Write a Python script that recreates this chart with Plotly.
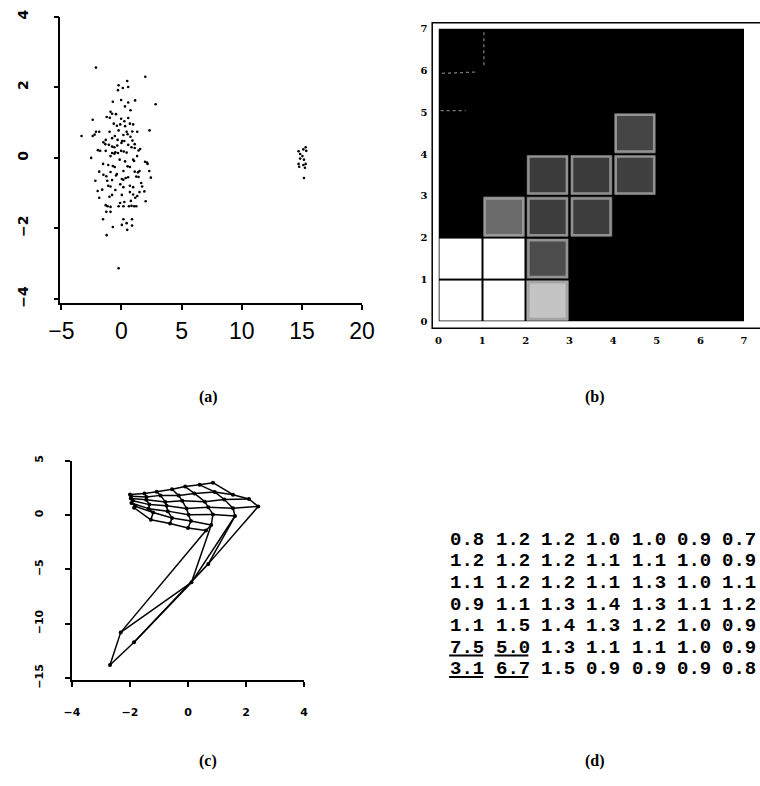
import plotly.graph_objects as go

W, H = 760, 786


def fx(p):
    """page pixel (from left) -> paper fraction"""
    return p / W


def fy(p):
    """page pixel (from top) -> paper fraction"""
    return 1 - p / H


# ---------------- (a) observations: main cloud and the distant group ----------------
MAIN_X = [-2.12, 1.98, 0.48, -0.24, 0.56, 0.11, -0.29, 2.84, -0.72, -0.03, 0.56, 1.13, 0.29,
          -2.39, -0.91, -0.78, -0.46, -1.23, -0.97, -0.03, 0.56, 0.24, 0.70, 0.97, -0.64, -0.38,
          -2.12, -1.85, -0.99, -0.24, 0.43, 1.31, 2.33, -3.32, -2.39, -2.23, 0.16, 0.51, 0.75,
          -1.31, -0.78, -0.32, 0.05, 0.24, 0.91, -1.50, -1.34, -1.05, 0.56, 1.10, 0.83, 1.10,
          -0.78, -0.59, -1.31, -1.77, -1.96, -0.03, 0.19, 0.43, 1.55, 1.42, -0.78, -0.51, -0.59,
          -0.29, -0.91, -2.52, 0.97, 1.05, 1.96, 2.12, 2.17, -1.53, -0.72, -0.56, 0.51, 0.70,
          -1.85, -0.91, 0.16, 1.10, 1.37, 1.50, 2.31, -1.50, -1.26, -0.38, 1.23, 1.42, 2.44,
          -2.17, -1.18, -0.78, 0.16, 0.35, 0.03, 1.64, -1.10, 0.16, -0.91, 0.70, 0.97, 1.72,
          -1.98, -0.51, 0.70, 0.97, 1.50, -1.85, -0.78, 0.03, 1.31, 1.15, 0.24, -0.11, 2.01,
          0.78, -1.31, -1.15, -0.91, -0.24, 0.16, 0.62, 0.83, 1.05, 1.23, -1.26, -0.91, -1.53,
          0.16, 0.88, 0.43, 0.03, 0.88, -0.72, 0.48, -1.23, -0.24,
          -0.35, 0.00, -0.15, 0.30, -0.45, 0.55, -0.10, 1.30, -1.10, 0.90, -0.55, 0.30, -1.60,
          1.90, -0.10, 0.75, -1.00]
MAIN_Y = [2.56, 2.30, 2.18, 2.06, 2.01, 1.98, 1.92, 1.52, 1.59, 1.64, 1.57, 1.63, 1.46,
          1.08, 1.31, 1.25, 1.24, 1.16, 1.14, 1.11, 1.13, 1.04, 0.97, 0.95, 0.97, 0.91,
          0.74, 0.74, 0.74, 0.78, 0.74, 0.74, 0.78, 0.62, 0.62, 0.66, 0.65, 0.67, 0.60,
          0.51, 0.56, 0.51, 0.48, 0.48, 0.49, 0.44, 0.39, 0.37, 0.37, 0.39, 0.30, 0.28,
          0.32, 0.30, 0.20, 0.20, 0.22, 0.20, 0.18, 0.15, 0.25, 0.21, 0.14, 0.16, 0.12,
          0.14, 0.05, 0.00, -0.05, -0.09, -0.11, -0.13, -0.17, -0.17, -0.23, -0.26, -0.24, -0.26,
          -0.39, -0.40, -0.37, -0.39, -0.41, -0.37, -0.37, -0.48, -0.52, -0.46, -0.53, -0.54, -0.56,
          -0.65, -0.65, -0.63, -0.62, -0.57, -0.60, -0.71, -0.79, -0.83, -0.81, -0.79, -0.83, -0.81,
          -0.94, -0.91, -0.97, -1.04, -0.97, -1.13, -1.05, -1.05, -1.08, -1.13, -1.25, -1.28, -1.23,
          -1.22, -1.34, -1.37, -1.39, -1.37, -1.37, -1.37, -1.36, -1.37, -1.37, -1.53, -1.53, -1.74,
          -1.74, -1.74, -1.85, -1.90, -1.92, -1.96, -2.04, -2.19, -3.13,
          0.35, 0.42, -0.05, -0.10, -0.50, -0.55, -0.75, 0.05, -0.20, 0.75, 0.62, 0.90, -0.90,
          -0.95, 0.95, 1.35, -1.10]
FAR_X = [14.72, 14.85, 15.12, 15.31, 15.36, 15.04, 14.85, 15.17, 14.72, 14.77, 15.12, 15.31,
         15.25, 15.17]
FAR_Y = [0.19, 0.11, 0.24, 0.30, 0.20, 0.05, -0.02, -0.05, -0.17, -0.25, -0.20, -0.17,
         -0.28, -0.57]
A_XTICKS = [-5, 0, 5, 10, 15, 20]
A_YTICKS = [-4, -2, 0, 2, 4]

# ---------------- (b) 7 x 7 unit map, grey level per unit (0 = black, 1 = white) ----------------
B_UNITS = [0, 1, 2, 3, 4, 5, 6]
B_LEVEL = [  # row index = y unit (bottom row first)
    [1.00, 1.00, 0.77, 0.00, 0.00, 0.00, 0.00],
    [1.00, 1.00, 0.30, 0.00, 0.00, 0.00, 0.00],
    [0.00, 0.42, 0.24, 0.24, 0.00, 0.00, 0.00],
    [0.00, 0.00, 0.23, 0.23, 0.25, 0.00, 0.00],
    [0.00, 0.00, 0.00, 0.00, 0.27, 0.00, 0.00],
    [0.00, 0.00, 0.00, 0.00, 0.00, 0.00, 0.00],
    [0.00, 0.00, 0.00, 0.00, 0.00, 0.00, 0.00],
]
B_TICKS = [0, 1, 2, 3, 4, 5, 6, 7]
# faint traces left in the dark field (x0, y0, x1, y1 in unit coordinates)
B_FAINT = [(0.08, 5.93, 0.85, 5.96), (0.05, 5.04, 0.62, 5.04), (1.04, 6.12, 1.04, 6.95)]

# ---------------- (c) map units in data space, MESH_*[i][j] ----------------
MESH_X = [
    [-2.69, -2.32, 0.62, 0.00, -0.62, -1.28, -1.86],
    [-1.86, 0.12, 0.80, 0.10, -0.55, -1.20, -1.82],
    [0.70, 1.62, 0.86, 0.02, -0.70, -1.36, -1.95],
    [2.42, 1.55, 0.70, -0.05, -0.74, -1.33, -1.90],
    [2.10, 1.25, 0.58, -0.20, -0.78, -1.44, -1.97],
    [1.55, 0.92, 0.22, -0.32, -0.95, -1.43, -1.96],
    [0.86, 0.40, -0.10, -0.55, -1.08, -1.50, -2.00],
]
MESH_Y = [
    [-13.8, -10.8, -1.44, -1.20, -0.78, -0.45, 0.66],
    [-11.7, -6.2, -0.93, -0.55, -0.28, 0.22, 0.80],
    [-4.5, -0.10, 0.05, 0.02, 0.35, 0.58, 1.10],
    [0.78, 0.62, 0.70, 0.60, 0.85, 0.95, 1.30],
    [1.47, 1.42, 1.22, 1.30, 1.20, 1.40, 1.52],
    [1.86, 2.12, 1.98, 1.78, 1.80, 1.66, 1.72],
    [2.97, 2.77, 2.61, 2.37, 2.14, 1.98, 1.87],
]
C_XTICKS = [-4, -2, 0, 2, 4]
C_YTICKS = [-15, -10, -5, 0, 5]

# ---------------- (d) per-unit values (top row first) ----------------
D_VALUES = [
    [0.8, 1.2, 1.2, 1.0, 1.0, 0.9, 0.7],
    [1.2, 1.2, 1.2, 1.1, 1.1, 1.0, 0.9],
    [1.1, 1.2, 1.2, 1.1, 1.3, 1.0, 1.1],
    [0.9, 1.1, 1.3, 1.4, 1.3, 1.1, 1.2],
    [1.1, 1.5, 1.4, 1.3, 1.2, 1.0, 0.9],
    [7.5, 5.0, 1.3, 1.1, 1.1, 1.0, 0.9],
    [3.1, 6.7, 1.5, 0.9, 0.9, 0.9, 0.8],
]
D_MARK_LIMIT = 3.0  # values above this are underlined

PANEL_LABELS = ["(a)", "(b)", "(c)", "(d)"]

fig = go.Figure()

# (a) scatter
dot = dict(color="black", size=2.6)
fig.add_trace(go.Scatter(x=MAIN_X, y=MAIN_Y, mode="markers", marker=dot,
                         xaxis="x", yaxis="y", showlegend=False))
fig.add_trace(go.Scatter(x=FAR_X, y=FAR_Y, mode="markers", marker=dot,
                         xaxis="x", yaxis="y", showlegend=False))

# (b) unit map
fig.add_trace(go.Heatmap(z=B_LEVEL, x=[u + 0.5 for u in B_UNITS], y=[u + 0.5 for u in B_UNITS],
                         zmin=0, zmax=1, colorscale=[[0, "black"], [1, "white"]],
                         showscale=False, xgap=2, ygap=2, hoverinfo="skip",
                         xaxis="x2", yaxis="y2"))

# (c) mesh edges and nodes
n_i, n_j = len(MESH_X), len(MESH_X[0])
ex, ey = [], []
for i in range(n_i):
    for j in range(n_j):
        if i + 1 < n_i:
            ex += [MESH_X[i][j], MESH_X[i + 1][j], None]
            ey += [MESH_Y[i][j], MESH_Y[i + 1][j], None]
        if j + 1 < n_j:
            ex += [MESH_X[i][j], MESH_X[i][j + 1], None]
            ey += [MESH_Y[i][j], MESH_Y[i][j + 1], None]
fig.add_trace(go.Scatter(x=ex, y=ey, mode="lines", line=dict(color="black", width=1.5),
                         xaxis="x3", yaxis="y3", showlegend=False, hoverinfo="skip"))
fig.add_trace(go.Scatter(x=[v for row in MESH_X for v in row], y=[v for row in MESH_Y for v in row],
                         mode="markers", marker=dict(color="black", size=4),
                         xaxis="x3", yaxis="y3", showlegend=False))

sans = "Liberation Sans, Arial, sans-serif"
bold_tick = dict(family="DejaVu Sans, sans-serif", size=11, color="black", weight="bold")

axis_common = dict(showgrid=False, zeroline=False, ticks="outside", tickcolor="black",
                   linecolor="black", fixedrange=True)

layout = dict(
    width=W, height=H, margin=dict(l=0, r=0, t=0, b=0),
    paper_bgcolor="white", plot_bgcolor="rgba(0,0,0,0)",
    font=dict(family=sans, color="black"),
    # (a)
    xaxis=dict(axis_common, domain=[fx(50), fx(362)], range=[-5.08, 20], showline=True,
               linewidth=1.5, tickvals=A_XTICKS, ticklen=5, tickwidth=1.5,
               tickfont=dict(family=sans, size=23, color="black"), ticklabelstandoff=2,
               anchor="y"),
    yaxis=dict(axis_common, domain=[fy(302), fy(10)], range=[-4.11, 4], showline=True,
               linewidth=1.5, tickvals=A_YTICKS, ticklen=5, tickwidth=1.5, tickangle=-90,
               tickfont=dict(bold_tick, size=14), ticklabelstandoff=20, anchor="x"),
    # (b)
    xaxis2=dict(showgrid=False, zeroline=False, showline=False, domain=[fx(441), fx(757)],
                range=[0, 7], tickvals=B_TICKS, ticks="", fixedrange=True,
                tickfont=dict(family="DejaVu Serif, serif", size=10, color="black", weight="bold"),
                ticklabelstandoff=12, anchor="y2"),
    yaxis2=dict(showgrid=False, zeroline=False, showline=False, domain=[fy(321), fy(22)],
                range=[0, 7], tickvals=B_TICKS, ticks="", fixedrange=True,
                tickfont=dict(family="DejaVu Serif, serif", size=10, color="black", weight="bold"),
                ticklabelstandoff=10, anchor="x2"),
    # (c)
    xaxis3=dict(axis_common, domain=[fx(62), fx(302)], range=[-4, 4], showline=True,
                linewidth=1.5, tickvals=C_XTICKS, ticklen=5, tickwidth=1.5,
                tickfont=bold_tick, ticklabelstandoff=16, anchor="y3"),
    yaxis3=dict(axis_common, domain=[fy(687), fy(463)], range=[-15.18, 5], showline=True,
                linewidth=1.5, tickvals=C_YTICKS, ticklen=5, tickwidth=1.5, tickangle=-90,
                tickfont=bold_tick, ticklabelstandoff=18, anchor="x3"),
)
fig.update_layout(**layout)

shapes = []
# (b) black field behind the units and the double frame
shapes.append(dict(type="rect", xref="x2", yref="y2", x0=0, x1=7, y0=0, y1=7,
                   fillcolor="black", line=dict(width=0), layer="below"))
shapes.append(dict(type="rect", xref="paper", yref="paper", x0=fx(434.5), x1=1.05,
                   y0=fy(328), y1=fy(16), line=dict(color="black", width=1.5)))
# light rim around shaded units
for r, row in enumerate(B_LEVEL):
    for c, lvl in enumerate(row):
        if 0 < lvl < 1:
            shapes.append(dict(type="rect", xref="x2", yref="y2",
                               x0=B_UNITS[c] + 0.06, x1=B_UNITS[c] + 0.94,
                               y0=B_UNITS[r] + 0.06, y1=B_UNITS[r] + 0.94,
                               line=dict(color="rgba(160,160,160,0.85)", width=2.5)))
for x0, y0, x1, y1 in B_FAINT:
    shapes.append(dict(type="line", xref="x2", yref="y2", x0=x0, y0=y0, x1=x1, y1=y1,
                       line=dict(color="rgba(150,150,150,0.8)", width=1.3, dash="dot")))

annotations = []
# (d) table of values
col0, col_step = 451, 46.9
row0, row_step = 544, 22.0
mono = dict(family="Liberation Mono, Courier New, monospace", size=19, color="black",
            weight="bold")
for r, row in enumerate(D_VALUES):
    for c, v in enumerate(row):
        xl = col0 + c * col_step
        yc = row0 + r * row_step
        annotations.append(dict(text=f"{v:.1f}", xref="paper", yref="paper",
                                x=fx(xl), y=fy(yc), xanchor="left", yanchor="middle",
                                showarrow=False, font=mono))
        if v > D_MARK_LIMIT:
            shapes.append(dict(type="line", xref="paper", yref="paper",
                               x0=fx(xl + 1), x1=fx(xl + 36), y0=fy(yc + 8), y1=fy(yc + 8),
                               line=dict(color="black", width=2)))

# panel captions
label_pos = [(203, 398), (603, 398), (203, 770), (603, 770)]
for text, (lx, ly) in zip(PANEL_LABELS, label_pos):
    annotations.append(dict(text=text, xref="paper", yref="paper", x=fx(lx), y=fy(ly),
                            xanchor="center", yanchor="middle", showarrow=False,
                            font=dict(family="Liberation Serif, serif", size=16,
                                      color="black", weight="bold")))

fig.update_layout(shapes=shapes, annotations=annotations)
fig.write_html("out.html")
